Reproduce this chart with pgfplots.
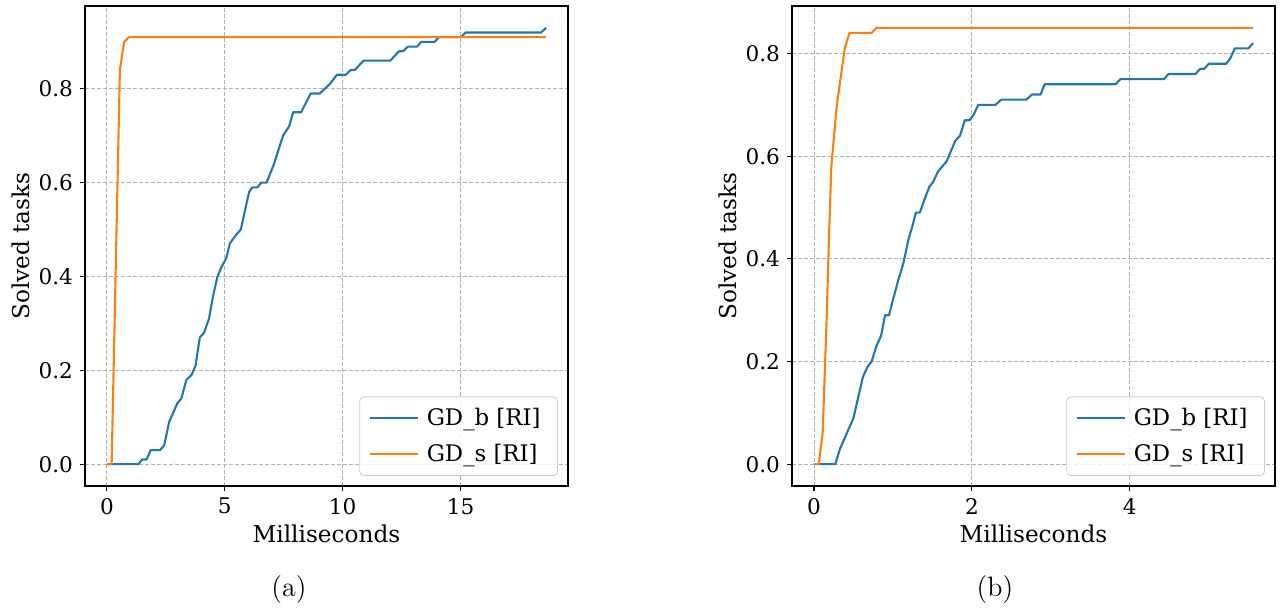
\documentclass[border=0pt]{standalone}
\usepackage{pgfplots}
\pgfplotsset{compat=1.18}
\usepackage{fontspec}
\newfontfamily\dejavu{DejaVu Serif}
\definecolor{mplblue}{HTML}{1F77B4}
\definecolor{mplorange}{HTML}{FF7F0E}
\definecolor{gridgray}{HTML}{B0B0B0}
\definecolor{legframe}{HTML}{CCCCCC}

\pgfplotstableread{
x y
0 0
1.33 0
1.5 0.01
1.68 0.01
1.86 0.03
2.25 0.03
2.43 0.04
2.64 0.09
2.99 0.13
3.16 0.14
3.37 0.18
3.59 0.19
3.76 0.21
3.94 0.27
4.12 0.28
4.33 0.31
4.51 0.36
4.69 0.40
4.86 0.42
5.07 0.44
5.21 0.47
5.35 0.48
5.50 0.49
5.68 0.50
6.03 0.58
6.17 0.59
6.38 0.59
6.55 0.60
6.77 0.60
7.09 0.64
7.47 0.70
7.73 0.72
7.90 0.75
8.24 0.75
8.64 0.79
9.03 0.79
9.45 0.81
9.76 0.83
10.13 0.83
10.34 0.84
10.51 0.84
10.89 0.86
12.02 0.86
12.39 0.88
12.56 0.88
12.77 0.89
13.16 0.89
13.33 0.90
13.90 0.90
14.08 0.91
15.03 0.91
15.21 0.92
18.42 0.92
18.63 0.93
}\leftblue

\pgfplotstableread{
x y
0 0
0.2 0
0.55 0.84
0.73 0.90
0.94 0.91
18.63 0.91
}\leftorange

\pgfplotstableread{
x y
0 0
0.27 0
0.33 0.03
0.50 0.09
0.62 0.17
0.68 0.19
0.73 0.20
0.79 0.23
0.85 0.25
0.90 0.29
0.95 0.29
1.00 0.32
1.07 0.36
1.13 0.39
1.20 0.44
1.24 0.46
1.29 0.49
1.34 0.49
1.41 0.52
1.46 0.54
1.51 0.55
1.57 0.57
1.68 0.59
1.79 0.63
1.85 0.64
1.91 0.67
1.97 0.67
2.02 0.68
2.08 0.70
2.30 0.70
2.37 0.71
2.69 0.71
2.76 0.72
2.87 0.72
2.92 0.74
3.82 0.74
3.88 0.75
4.43 0.75
4.49 0.76
4.83 0.76
4.89 0.77
4.94 0.77
5.00 0.78
5.22 0.78
5.27 0.79
5.33 0.81
5.50 0.81
5.56 0.82
}\rightblue

\pgfplotstableread{
x y
0 0
0.06 0
0.11 0.06
0.16 0.28
0.19 0.44
0.22 0.58
0.29 0.70
0.39 0.81
0.45 0.84
0.73 0.84
0.79 0.85
5.56 0.85
}\rightorange

\pgfplotsset{
  mplstyle/.style={
    scale only axis,
    width=241.5pt, height=240pt,
    axis line style={black, line width=0.55pt},
    tick align=outside, tick pos=left,
    major tick length=2.5pt,
    every tick/.style={black, line width=0.55pt},
    grid=major,
    major grid style={gridgray, line width=0.45pt, dash pattern=on 2pt off 1pt},
    /pgf/number format/assume math mode=true,
    tick label style={font=\dejavu\fontsize{10.8}{12}\selectfont},
    label style={font=\dejavu\fontsize{11.6}{13}\selectfont},
    ylabel={Solved tasks}, xlabel={Milliseconds},
    x label style={at={(axis description cs:0.5,-0.1)}, anchor=center},
    y label style={at={(axis description cs:-0.1325,0.5)}, anchor=center, rotate=0},
    ytick={0,0.2,0.4,0.6,0.8},
    yticklabel style={/pgf/number format/.cd, fixed, fixed zerofill, precision=1},
    legend style={at={(0.979,0.021)}, anchor=south east, draw=legframe, rounded corners=2pt,
      fill=white, fill opacity=0.8, text opacity=1, font=\dejavu\fontsize{11.4}{13}\selectfont,
      inner xsep=4.5pt, inner ysep=3.5pt, row sep=4pt,
      nodes={inner xsep=4pt}},
    legend cell align=left,
    legend image code/.code={\draw[#1] (0pt,0pt) -- (24pt,0pt);},
  },
  bl/.style={mplblue, line width=1.05pt, line join=round},
  or/.style={mplorange, line width=1.05pt, line join=round},
}

\begin{document}
\begin{tikzpicture}
\useasboundingbox (0,0) rectangle (642.5pt,305pt);
\begin{axis}[mplstyle, at={(42.5pt,62pt)}, anchor=south west,
  xmin=-0.93, xmax=19.56, ymin=-0.0465, ymax=0.9765,
  xtick={0,5,10,15}]
\addplot[bl] table[x=x,y=y] {\leftblue};
\addlegendentry{GD\_b [RI]}
\addplot[or] table[x=x,y=y] {\leftorange};
\addlegendentry{GD\_s [RI]}
\end{axis}
\begin{axis}[mplstyle, at={(396pt,62pt)}, anchor=south west,
  xmin=-0.278, xmax=5.838, ymin=-0.0425, ymax=0.8925,
  xtick={0,2,4}]
\addplot[bl] table[x=x,y=y] {\rightblue};
\addlegendentry{GD\_b [RI]}
\addplot[or] table[x=x,y=y] {\rightorange};
\addlegendentry{GD\_s [RI]}
\end{axis}
\node[font=\fontsize{14}{16}\selectfont] at (144.5pt,10pt) {(a)};
\node[font=\fontsize{14}{16}\selectfont] at (497.5pt,10pt) {(b)};
\end{tikzpicture}
\end{document}
